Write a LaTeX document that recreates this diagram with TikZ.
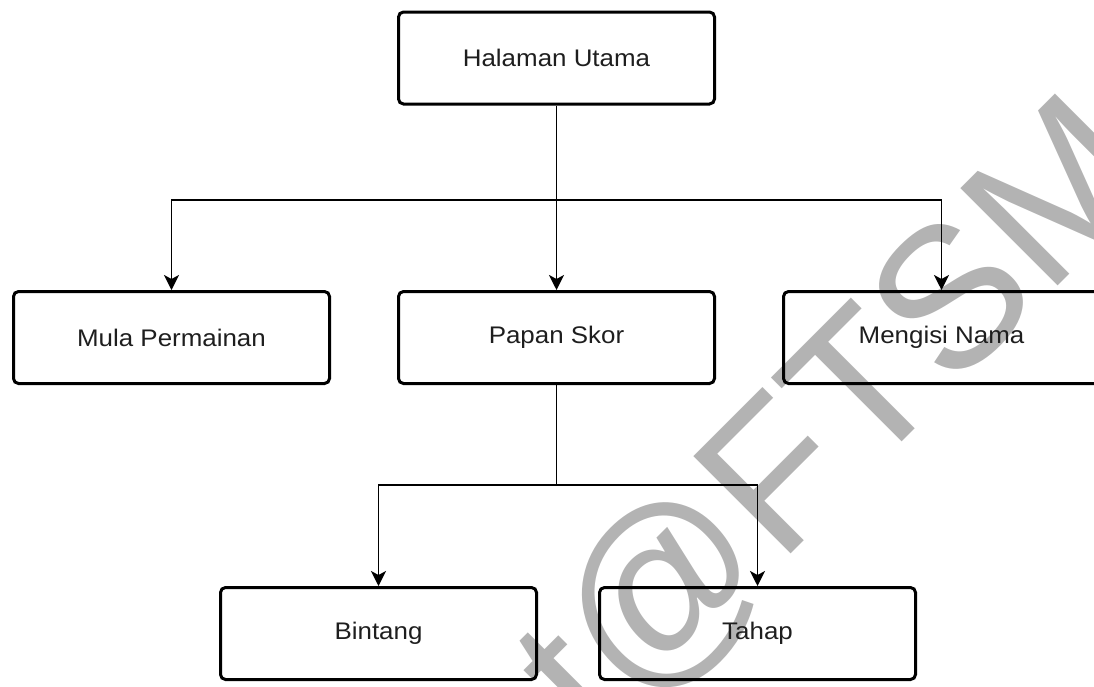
\documentclass[tikz,border=0pt]{standalone}
\usepackage{fontspec}
\usepackage{graphicx}
\setmainfont{Liberation Sans}
\usetikzlibrary{arrows.meta}
\definecolor{mark}{HTML}{B3B3B3}
\definecolor{ink}{HTML}{1E1E1E}
\newcommand\widetext[1]{\scalebox{1.08}[1]{#1}}
\begin{document}
\begin{tikzpicture}[x=1pt,y=-1pt,
  box/.style={draw=black, line width=3pt, rounded corners=5pt,
    minimum width=316pt, minimum height=92pt, inner sep=0pt,
    text=ink, font=\fontsize{24}{28}\selectfont},
  link/.style={draw=black, line width=1.8pt},
  arr/.style={link, -{Stealth[length=15pt,width=15pt,inset=4pt]}},
  stamp/.style={rotate=45, anchor=base west, inner sep=0pt, text=mark,
    font=\fontsize{200}{200}\selectfont},
]
\useasboundingbox (0,0) rectangle (1094,686);

% watermark behind the chart
\begin{scope}
  \clip (0,0) rectangle (1094,686);
  \node[stamp] (wm) at (596,748) {t@FTSM};
\end{scope}

% boxes
\node[box] (home)    at (556.5,58)    {\widetext{Halaman Utama}};
\node[box] (mula)    at (171.5,337.5) {\widetext{Mula Permainan}};
\node[box] (skor)    at (556.5,337.5) {\widetext{Papan Skor}};
\node[box] (nama)    at (941.5,337.5) {\widetext{Mengisi Nama}};
\node[box] (bintang) at (378.5,633.5) {\widetext{Bintang}};
\node[box] (tahap)   at (757.5,633.5) {\widetext{Tahap}};

% branch points
\coordinate (j1) at (556.5,200);
\coordinate (j2) at (556.5,485);

% connectors
\draw[arr] (home.south) -- (skor.north);
\draw[arr] (j1) -| (mula.north);
\draw[arr] (j1) -| (nama.north);
\draw[link] (skor.south) -- (j2);
\draw[arr] (j2) -| (bintang.north);
\draw[arr] (j2) -| (tahap.north);
\end{tikzpicture}
\end{document}
